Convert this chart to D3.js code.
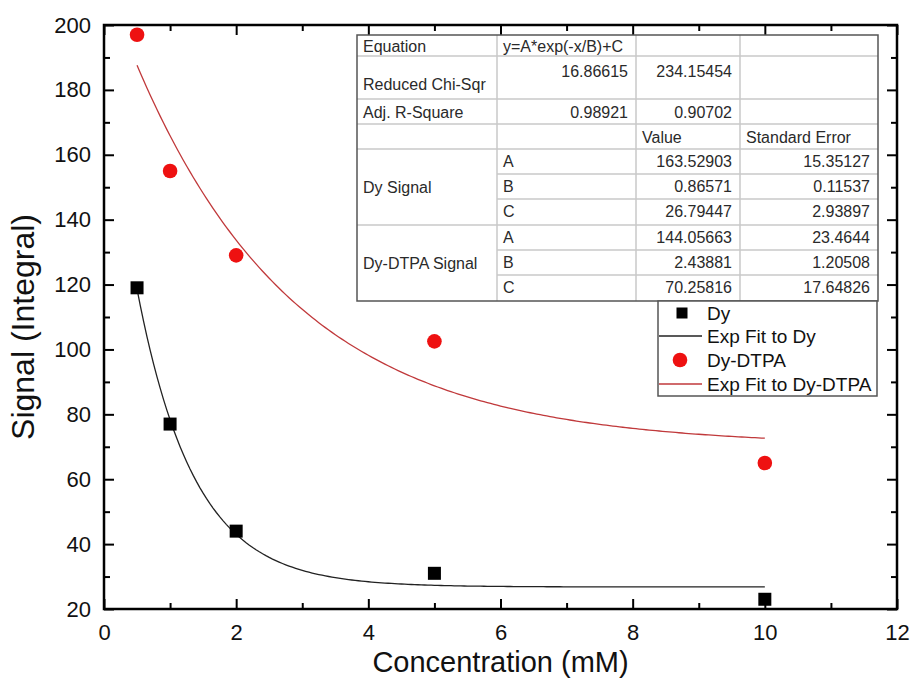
<!DOCTYPE html>
<html><head><meta charset="utf-8">
<script src="https://cdn.jsdelivr.net/npm/d3@7"></script>
<style>body{margin:0;background:#fff} svg{display:block;font-family:"Liberation Sans",Arial,sans-serif}</style>
</head><body><svg id="c" width="910" height="691"></svg>
<script>
// ---- data ----
const concentration = [0.5, 1, 2, 5, 10];
const dySignal = [119, 77, 44, 31, 23];
const dtpaSignal = [197, 155, 129, 102.5, 65];
const xTicks = [0, 2, 4, 6, 8, 10, 12];
const xMinorTicks = [1, 3, 5, 7, 9, 11];
const yTicks = [20, 40, 60, 80, 100, 120, 140, 160, 180, 200];
const yMinorTicks = [30, 50, 70, 90, 110, 130, 150, 170, 190];
const fitEquation = "y=A*exp(-x/B)+C";
const chiSqr = ["16.86615", "234.15454"];
const adjR2 = ["0.98921", "0.90702"];
const paramNames = ["A", "B", "C"];
const dyValues = ["163.52903", "0.86571", "26.79447"];
const dyErrors = ["15.35127", "0.11537", "2.93897"];
const dtpaValues = ["144.05663", "2.43881", "70.25816"];
const dtpaErrors = ["23.4644", "1.20508", "17.64826"];
const legendLabels = ["Dy", "Exp Fit to Dy", "Dy-DTPA", "Exp Fit to Dy-DTPA"];

// ---- layout ----
const svg = d3.select("#c");
const L = 104, R = 897, T = 25, B = 609;
const x = d3.scaleLinear().domain([0, 12]).range([L, R]);
const y = d3.scaleLinear().domain([20, 200]).range([B, T]);
const red = "#ee1111", fitRed = "#c0393b";

function styleAxis(g, labels) {
  g.select(".domain").remove();
  g.selectAll(".tick line").attr("stroke", "#000").attr("stroke-width", 2);
  if (!labels) g.selectAll(".tick text").remove();
  else g.selectAll(".tick text").attr("fill", "#111").style("font-size", "22px").style("font-family", '"Liberation Sans",Arial,sans-serif');
}
// bottom
svg.append("g").attr("transform", `translate(0,${B})`)
  .call(d3.axisBottom(x).tickValues(xTicks).tickSizeInner(-10).tickSizeOuter(0).tickPadding(15).tickFormat(d3.format("d")))
  .call(g => styleAxis(g, true));
svg.append("g").attr("transform", `translate(0,${B})`)
  .call(d3.axisBottom(x).tickValues(xMinorTicks).tickSizeInner(-6).tickSizeOuter(0))
  .call(g => styleAxis(g, false));
// top
svg.append("g").attr("transform", `translate(0,${T})`)
  .call(d3.axisTop(x).tickValues(xTicks).tickSizeInner(-10).tickSizeOuter(0))
  .call(g => styleAxis(g, false));
svg.append("g").attr("transform", `translate(0,${T})`)
  .call(d3.axisTop(x).tickValues(xMinorTicks).tickSizeInner(-6).tickSizeOuter(0))
  .call(g => styleAxis(g, false));
// left
svg.append("g").attr("transform", `translate(${L},0)`)
  .call(d3.axisLeft(y).tickValues(yTicks).tickSizeInner(-10).tickSizeOuter(0).tickPadding(13).tickFormat(d3.format("d")))
  .call(g => styleAxis(g, true));
svg.append("g").attr("transform", `translate(${L},0)`)
  .call(d3.axisLeft(y).tickValues(yMinorTicks).tickSizeInner(-6).tickSizeOuter(0))
  .call(g => styleAxis(g, false));
// right
svg.append("g").attr("transform", `translate(${R},0)`)
  .call(d3.axisRight(y).tickValues(yTicks).tickSizeInner(-10).tickSizeOuter(0))
  .call(g => styleAxis(g, false));
svg.append("g").attr("transform", `translate(${R},0)`)
  .call(d3.axisRight(y).tickValues(yMinorTicks).tickSizeInner(-6).tickSizeOuter(0))
  .call(g => styleAxis(g, false));
// frame
svg.append("rect").attr("x", L).attr("y", T).attr("width", R - L).attr("height", B - T)
  .attr("fill", "none").attr("stroke", "#000").attr("stroke-width", 2.5);

// axis titles
svg.append("text").attr("x", (L + R) / 2).attr("y", 672).attr("text-anchor", "middle")
  .style("font-size", "29px").attr("fill", "#111").text("Concentration (mM)");
svg.append("text").attr("transform", `translate(34,${(T + B) / 2 + 10}) rotate(-90)`).attr("text-anchor", "middle")
  .style("font-size", "32px").attr("fill", "#111").text("Signal (Integral)");

// fit curves drawn from the fitted parameters listed in the table
function fitCurve(params) {
  const [A, Bp, C] = params.map(Number);
  const xs = d3.range(0.5, 10.0001, 0.05);
  return xs.map(v => [v, A * Math.exp(-v / Bp) + C]);
}
const line = d3.line().x(d => x(d[0])).y(d => y(d[1]));
svg.append("path").attr("d", line(fitCurve(dyValues))).attr("fill", "none").attr("stroke", "#222").attr("stroke-width", 1.3);
svg.append("path").attr("d", line(fitCurve(dtpaValues))).attr("fill", "none").attr("stroke", fitRed).attr("stroke-width", 1.3);

// points
const sq = 13;
svg.append("g").selectAll("rect").data(concentration).join("rect")
  .attr("x", (d) => x(d) - sq / 2).attr("y", (d, i) => y(dySignal[i]) - sq / 2)
  .attr("width", sq).attr("height", sq).attr("fill", "#000");
svg.append("g").selectAll("circle").data(concentration).join("circle")
  .attr("cx", d => x(d)).attr("cy", (d, i) => y(dtpaSignal[i])).attr("r", 7.3).attr("fill", red);

// ---- table ----
const cols = [357, 497, 636, 740, 878];
const rows = [35, 56, 99, 124, 149, 174, 199, 225, 250, 275, 301];
const tg = svg.append("g").style("font-size", "16px").attr("fill", "#2a2a2a");
tg.append("rect").attr("x", cols[0]).attr("y", rows[0]).attr("width", cols[4] - cols[0]).attr("height", rows[10] - rows[0]).attr("fill", "#fff");
const grid = "#c9c9c9";
rows.slice(1, 10).forEach((r, i) => {
  const idx = i + 1;
  const partial = (idx === 5 || idx === 6 || idx === 8 || idx === 9);
  tg.append("line").attr("x1", partial ? cols[1] : cols[0]).attr("x2", cols[4]).attr("y1", r).attr("y2", r)
    .attr("stroke", grid).attr("stroke-width", 1.5);
});
cols.slice(1, 4).forEach(c => tg.append("line").attr("x1", c).attr("x2", c).attr("y1", rows[0]).attr("y2", rows[10]).attr("stroke", grid).attr("stroke-width", 1.5));
tg.append("rect").attr("x", cols[0]).attr("y", rows[0]).attr("width", cols[4] - cols[0]).attr("height", rows[10] - rows[0])
  .attr("fill", "none").attr("stroke", "#555").attr("stroke-width", 1.5);
const pad = 6;
function tl(text, col, base) { tg.append("text").attr("x", cols[col] + pad).attr("y", base).text(text); }
function tr(text, col, base) { tg.append("text").attr("x", cols[col + 1] - 8).attr("y", base).attr("text-anchor", "end").text(text); }
tl("Equation", 0, rows[0] + 17);
tl(fitEquation, 1, rows[0] + 17);
tl("Reduced Chi-Sqr", 0, 90);
tr(chiSqr[0], 1, rows[1] + 21);
tr(chiSqr[1], 2, rows[1] + 21);
tl("Adj. R-Square", 0, rows[2] + 19);
tr(adjR2[0], 1, rows[2] + 19);
tr(adjR2[1], 2, rows[2] + 19);
tl("Value", 2, rows[3] + 19);
tl("Standard Error", 3, rows[3] + 19);
paramNames.forEach((p, i) => {
  tl(p, 1, rows[4 + i] + 18);
  tr(dyValues[i], 2, rows[4 + i] + 18);
  tr(dyErrors[i], 3, rows[4 + i] + 18);
  tl(p, 1, rows[7 + i] + 18);
  tr(dtpaValues[i], 2, rows[7 + i] + 18);
  tr(dtpaErrors[i], 3, rows[7 + i] + 18);
});
tl("Dy Signal", 0, (rows[4] + rows[7]) / 2 + 6);
tl("Dy-DTPA Signal", 0, (rows[7] + rows[10]) / 2 + 6);

// ---- legend ----
const lg = svg.append("g");
lg.append("rect").attr("x", 658).attr("y", 301).attr("width", 877 - 658).attr("height", 396 - 301)
  .attr("fill", "#fff").attr("stroke", "#555").attr("stroke-width", 1.5);
const ly = [313, 336, 360, 384];
lg.append("rect").attr("x", 682 - 5.5).attr("y", ly[0] - 5.5).attr("width", 11).attr("height", 11).attr("fill", "#000");
lg.append("line").attr("x1", 659).attr("x2", 702).attr("y1", ly[1]).attr("y2", ly[1]).attr("stroke", "#222").attr("stroke-width", 1.3);
lg.append("circle").attr("cx", 680).attr("cy", ly[2]).attr("r", 7.3).attr("fill", red);
lg.append("line").attr("x1", 659).attr("x2", 702).attr("y1", ly[3]).attr("y2", ly[3]).attr("stroke", fitRed).attr("stroke-width", 1.3);
lg.selectAll("text").data(legendLabels).join("text")
  .attr("x", 707).attr("y", (d, i) => ly[i] + 7).style("font-size", "19px").attr("fill", "#111").text(d => d);
</script></body></html>
